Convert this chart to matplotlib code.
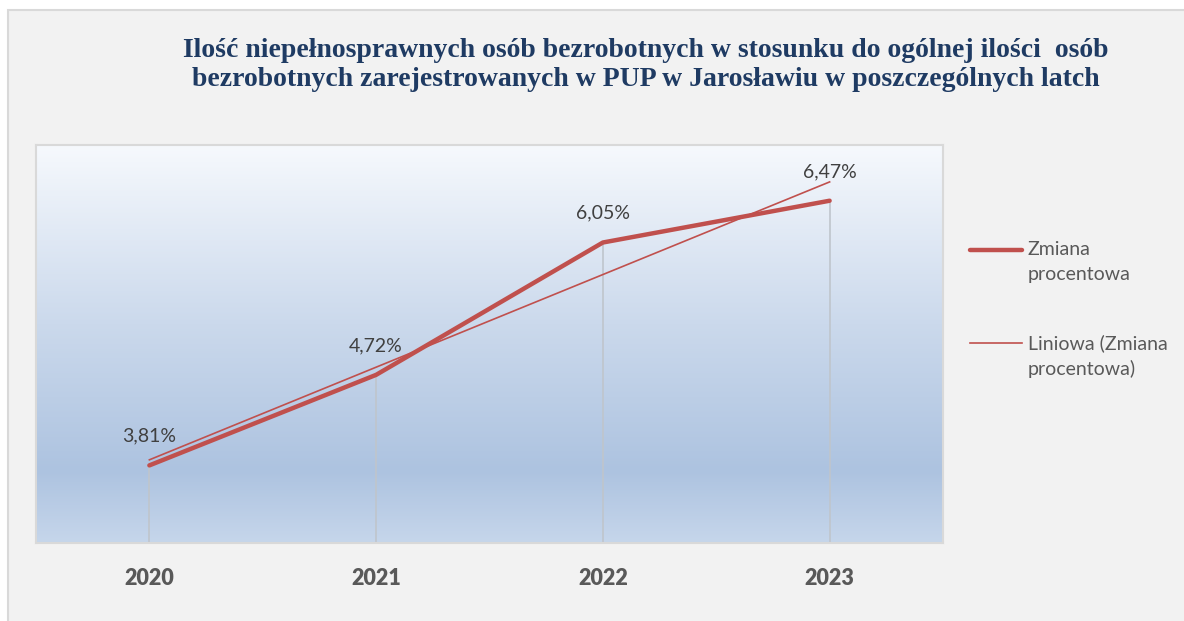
import matplotlib.pyplot as plt
import numpy as np
from matplotlib.colors import LinearSegmentedColormap
from matplotlib.lines import Line2D
from matplotlib.patches import Rectangle

# Data
years = ['2020', '2021', '2022', '2023']
values = [3.81, 4.72, 6.05, 6.47]
labels = ['3,81%', '4,72%', '6,05%', '6,47%']
series_name = 'Zmiana\nprocentowa'
trend_name = 'Liniowa (Zmiana\nprocentowa)'
title = ('Ilość niepełnosprawnych osób bezrobotnych w stosunku do ogólnej ilości  osób\n'
         'bezrobotnych zarejestrowanych w PUP w Jarosławiu w poszczególnych latch')

red = '#c0504d'
sans = ['Lato', 'DejaVu Sans']

fig = plt.figure(figsize=(11.84, 6.21), dpi=100, facecolor='white')

# grey chart panel with thin border (runs off the right/bottom edge)
fig.add_artist(Rectangle((8 / 1184, -0.01), 1.0, 1 - 10 / 621 + 0.01,
                         transform=fig.transFigure, facecolor='#f2f2f2',
                         edgecolor='#d9d9d9', linewidth=1.5, zorder=-10))

ax = fig.add_axes([36 / 1184, 78 / 621, 907 / 1184, 398 / 621])

# vertical gradient background of the plot area
grad = LinearSegmentedColormap.from_list(
    'bg', [(0.0, '#c6d6eb'), (0.18, '#adc3e0'), (0.55, '#cbd9ec'), (1.0, '#f6f9fd')])
ax.imshow(np.linspace(0, 1, 256).reshape(-1, 1), cmap=grad, origin='lower',
          extent=[0, 1, 0, 1], transform=ax.transAxes, aspect='auto', zorder=0)

x = np.arange(len(years))
ymin, ymax = 3.03, 7.03
ax.set_xlim(-0.5, len(years) - 0.5)
ax.set_ylim(ymin, ymax)

# drop lines
ax.vlines(x, ymin, values, color='#bfc5cc', linewidth=1.2, zorder=1)

# linear trend line
k, b = np.polyfit(x, values, 1)
ax.plot(x, k * x + b, color=red, linewidth=1.2, zorder=2)

# main series
ax.plot(x, values, color=red, linewidth=3.2, solid_capstyle='round', zorder=3)

for xi, v, t in zip(x, values, labels):
    ax.annotate(t, (xi, v), xytext=(0, 21), textcoords='offset points',
                ha='center', va='center', fontsize=14, color='#404040', family=sans)

ax.set_xticks(x)
ax.set_xticklabels(years, fontsize=15.5, fontweight='heavy', color='#595959', family=sans)
ax.tick_params(axis='x', length=0, pad=18)
ax.set_yticks([])
for s in ax.spines.values():
    s.set_color('#d9d9d9')
    s.set_linewidth(1.5)

fig.text(646 / 1184, 1 - 65 / 621, title, ha='center', va='center',
         fontsize=20, fontweight='bold', color='#1f3b63',
         family='Liberation Serif', linespacing=1.25)

# legend drawn by hand: handle beside the first text line
fig.add_artist(Line2D([970 / 1184, 1022 / 1184], [1 - 250 / 621] * 2, color=red,
                      linewidth=3.2, solid_capstyle='round', transform=fig.transFigure))
fig.text(1028 / 1184, 1 - 262 / 621, series_name, ha='left', va='center', fontsize=14,
         color='#595959', family=sans, linespacing=1.55)
fig.add_artist(Line2D([970 / 1184, 1022 / 1184], [1 - 343 / 621] * 2, color=red,
                      linewidth=1.2, transform=fig.transFigure))
fig.text(1028 / 1184, 1 - 356 / 621, trend_name, ha='left', va='center', fontsize=14,
         color='#595959', family=sans, linespacing=1.55)

fig.savefig('out.png', dpi=100, facecolor=fig.get_facecolor())
